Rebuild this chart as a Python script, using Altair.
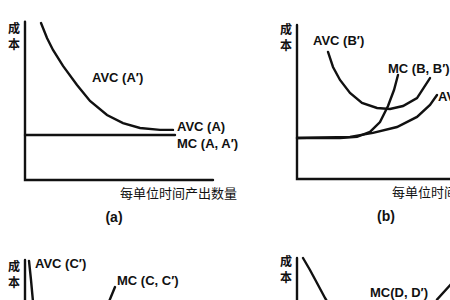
import altair as alt
import pandas as pd

# ---------------- data (quantity q, cost c in abstract units) ----------------
# panel (a)
a_axis_q = [0, 0, 9.4]
a_axis_c = [9.9, 0, 0]
a_avc1_q = [0.8, 1.1, 1.4, 1.9, 2.6, 3.25, 4.1, 4.9, 5.75, 6.75, 7.4]
a_avc1_c = [9.81, 8.88, 8.13, 7.13, 5.94, 4.94, 4.06, 3.56, 3.25, 3.13, 3.13]
a_mc_q = [0, 7.5]
a_mc_c = [2.81, 2.81]
a_labels = ["AVC (A′)", "AVC  (A)", "MC (A, A′)"]
a_label_q = [3.35, 7.6, 7.6]
a_label_c = [6.4, 3.31, 2.25]

# panel (b)
b_axis_q = [0, 0, 12]
b_axis_c = [9.63, 0, 0]
b_avc1_q = [1.55, 1.8, 2.15, 2.65, 3.25, 4.0, 4.65, 5.3, 6.0, 6.65]
b_avc1_c = [7.94, 7.0, 6.19, 5.38, 4.75, 4.44, 4.38, 4.56, 5.06, 6.31]
b_mc_q = [0, 2.15, 3.0, 3.65, 4.15, 4.55, 4.85, 5.05]
b_mc_c = [2.56, 2.56, 2.63, 2.94, 3.56, 4.56, 5.56, 6.5]
b_avc_q = [0, 2.65, 3.8, 5.0, 6.0, 6.65, 7.0]
b_avc_c = [2.56, 2.63, 2.88, 3.25, 3.88, 4.63, 5.25]
b_labels = ["AVC (B′)", "MC (B, B′)", "AVC (B)"]
b_label_q = [0.8, 4.55, 7.05]
b_label_c = [8.63, 6.85, 5.13]

# panel (c)
c_axis_q = [0, 0]
c_axis_c = [10, -1]
c_avc1_q = [0.2, 0.3, 0.4]
c_avc1_c = [9.94, 8.75, 7.4]
c_mc_q = [4.2, 4.5]
c_mc_c = [7.4, 8.31]
c_labels = ["AVC (C′)", "MC (C, C′)"]
c_label_q = [0.5, 4.6]
c_label_c = [9.75, 8.69]

# panel (d)
d_axis_q = [0, 0]
d_axis_c = [10, -1]
d_avc1_q = [0.3, 0.65, 1.0, 1.4, 1.6]
d_avc1_c = [10, 9.25, 8.44, 7.5, 7.1]
d_mc_q = [7.0, 7.75, 8.2]
d_mc_c = [7.4, 8.44, 9.0]
d_labels = ["MC(D, D′)"]
d_label_q = [3.65]
d_label_c = [7.81]

ylab_chars = ["成", "本"]
xlab_text = "每单位时间产出数量"
panel_names = ["(a)", "(b)", "(c)", "(d)"]


def lines_df(series):
    rows = []
    for name, qs, cs in series:
        for i, (q, c) in enumerate(zip(qs, cs)):
            rows.append({"series": name, "i": i, "q": q, "c": c})
    return pd.DataFrame(rows)


def panel(series, labels, lq, lc, x0, y0, name=None, xlabel=False, ytop=9.4):
    xs = alt.Scale(domain=[0, 10], range=[x0, x0 + 200], nice=False, zero=False)
    ys = alt.Scale(domain=[0, 10], range=[y0, y0 - 160], nice=False, zero=False)
    X = lambda f: alt.X(f, type="quantitative", scale=xs, axis=None)
    Y = lambda f: alt.Y(f, type="quantitative", scale=ys, axis=None)

    ln = alt.Chart(lines_df(series)).mark_line(
        color="#111", strokeWidth=2.4, clip=True, strokeCap="round"
    ).encode(x=X("q"), y=Y("c"), detail="series:N", order="i:Q")

    lab = alt.Chart(pd.DataFrame({"t": labels, "q": lq, "c": lc})).mark_text(
        font="Liberation Sans", fontWeight="bold", fontSize=13,
        align="left", baseline="middle", color="#111", clip=True
    ).encode(x=X("q"), y=Y("c"), text="t:N")

    yl = alt.Chart(pd.DataFrame({"t": ylab_chars, "q": [-0.55, -0.55],
                                 "c": [ytop, ytop - 1.0]})).mark_text(
        font="Noto Sans CJK SC", fontWeight="bold", fontSize=12,
        align="center", baseline="middle", color="#111"
    ).encode(x=X("q"), y=Y("c"), text="t:N")

    layers = [ln, lab, yl]
    if xlabel:
        xl = alt.Chart(pd.DataFrame({"t": [xlab_text], "q": [4.75], "c": [-0.9]})).mark_text(
            font="Noto Sans CJK SC", fontSize=13, align="left",
            baseline="middle", color="#111", clip=True
        ).encode(x=X("q"), y=Y("c"), text="t:N")
        pn = alt.Chart(pd.DataFrame({"t": [name], "q": [4.45], "c": [-2.4]})).mark_text(
            font="Liberation Sans", fontWeight="bold", fontSize=14,
            align="center", baseline="middle", color="#111"
        ).encode(x=X("q"), y=Y("c"), text="t:N")
        layers += [xl, pn]
    return alt.layer(*layers)


pa = panel([("axis", a_axis_q, a_axis_c), ("avc1", a_avc1_q, a_avc1_c),
            ("mc", a_mc_q, a_mc_c)],
           a_labels, a_label_q, a_label_c, 25, 180, panel_names[0], True, 9.45)
pb = panel([("axis", b_axis_q, b_axis_c), ("avc1", b_avc1_q, b_avc1_c),
            ("mc", b_mc_q, b_mc_c), ("avc", b_avc_q, b_avc_c)],
           b_labels, b_label_q, b_label_c, 297, 179, panel_names[1], True, 9.3)
pc = panel([("axis", c_axis_q, c_axis_c), ("avc1", c_avc1_q, c_avc1_c),
            ("mc", c_mc_q, c_mc_c)],
           c_labels, c_label_q, c_label_c, 25, 420, None, False, 9.55)
pd_ = panel([("axis", d_axis_q, d_axis_c), ("avc1", d_avc1_q, d_avc1_c),
             ("mc", d_mc_q, d_mc_c)],
            d_labels, d_label_q, d_label_c, 297, 418, None, False, 9.72)

chart = alt.layer(pa, pb, pc, pd_).resolve_scale(
    x="independent", y="independent"
).properties(
    width=450, height=300, padding=0, autosize="none", background="white"
).configure_view(stroke=None)

chart.save("out.html", embed_options={"renderer": "svg", "actions": False})
